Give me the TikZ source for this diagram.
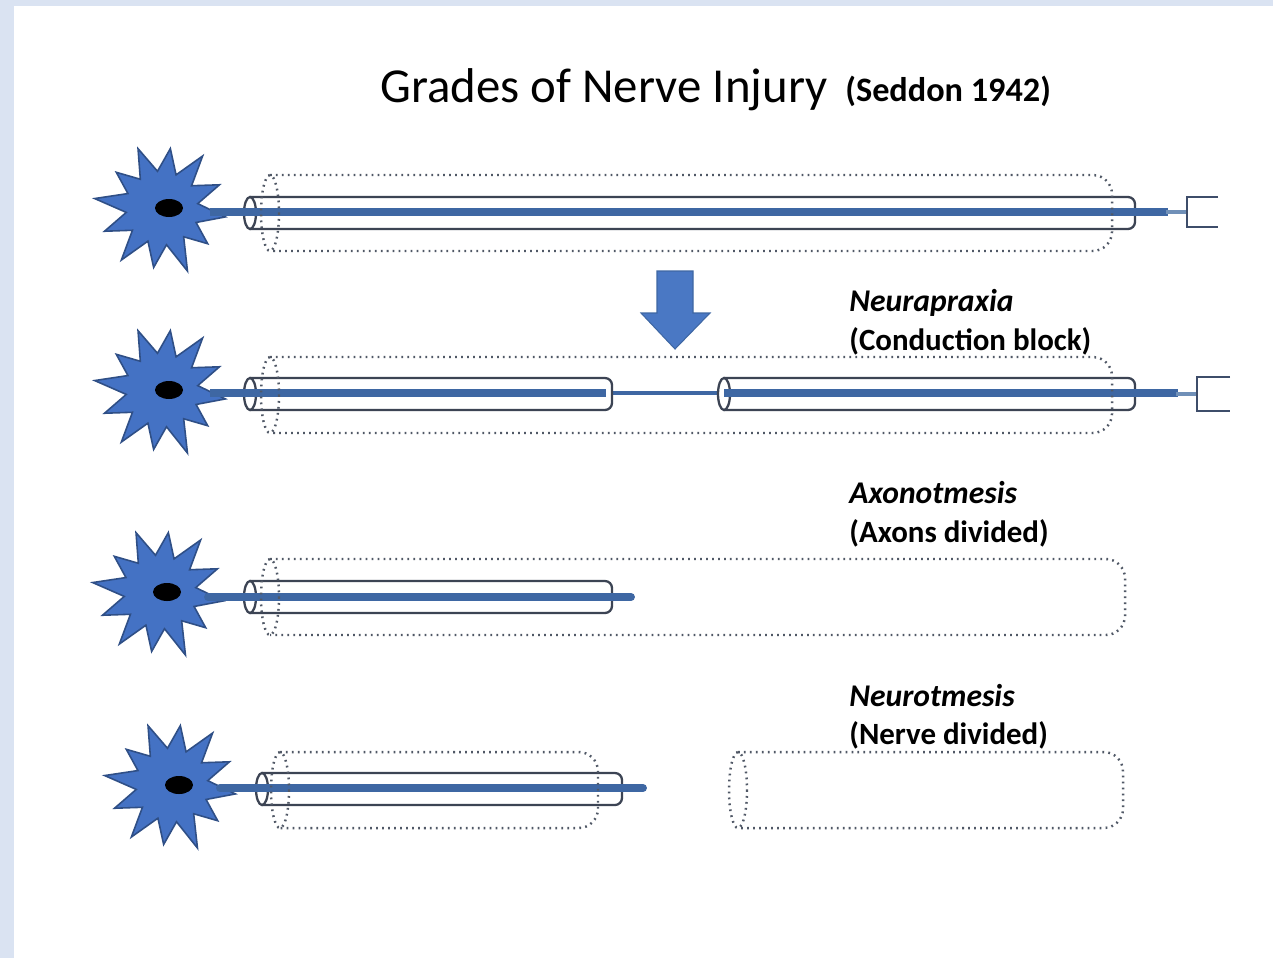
\documentclass[tikz,border=0pt]{standalone}
\usepackage{fontspec}
\setmainfont{Carlito}
\definecolor{pageblue}{HTML}{DAE3F2}
\definecolor{cellblue}{HTML}{4472C4}
\definecolor{celledge}{HTML}{2F4F86}
\definecolor{axonblue}{HTML}{3E67A3}
\definecolor{axonlight}{HTML}{7090B8}
\definecolor{sheathgray}{HTML}{3C4454}
\definecolor{dotgray}{HTML}{505866}
\definecolor{arrowblue}{HTML}{4A78C4}

\tikzset{
  cellbody/.style={fill=cellblue, draw=celledge, line width=0.9pt, line join=miter},
  sheath/.style={draw=sheathgray, line width=1.3pt},
  sheathdots/.style={draw=dotgray, line width=1.4pt, dash pattern=on 1pt off 2.4pt},
  axon/.style={draw=axonblue, line width=4.5pt},
  thinaxon/.style={draw=axonblue, line width=2.8pt},
  twig/.style={draw=axonlight, line width=1.8pt},
  bouton/.style={draw=sheathgray!80!cellblue, line width=1.4pt},
  titletext/.style={anchor=base west, inner sep=0pt, font=\fontsize{27.8}{32}\selectfont},
  subtitletext/.style={anchor=base west, inner sep=0pt, font=\bfseries\fontsize{19.5}{23}\selectfont},
  gradetext/.style={anchor=base west, inner sep=0pt, font=\bfseries\itshape\fontsize{18}{22}\selectfont},
  notetext/.style={anchor=base west, inner sep=0pt, font=\bfseries\fontsize{17.6}{21}\selectfont},
}

% nerve cell body with its nucleus
\newcommand{\somadraw}[2]{%
  \begin{scope}[shift={(#1,#2)}]
    \draw[cellbody] (8:64) -- (23:37) -- (38:58) -- (53:36) -- (68:68) -- (83:37)
      -- (98:60) -- (113:36) -- (128:66) -- (143:37) -- (158:62) -- (173:36)
      -- (188:68) -- (203:37) -- (218:58) -- (233:36) -- (248:64) -- (263:37)
      -- (278:60) -- (293:36) -- (308:66) -- (323:37) -- (338:62) -- (353:36) -- cycle;
    \fill[black] (7,0) ellipse [x radius=14, y radius=9];
  \end{scope}}

% myelin sheath around the axon: left end open ellipse, right end rounded
\newcommand{\myelin}[3]{% xL, xR, y
  \fill[white, rounded corners=4pt] (#1,#3-16) -- (#2,#3-16) -- (#2,#3+16) -- (#1,#3+16) -- cycle;
  \draw[sheath, rounded corners=4pt] (#1,#3-16) -- (#2,#3-16) -- (#2,#3+16) -- (#1,#3+16);
  \draw[sheath, fill=white] (#1,#3) ellipse [x radius=6, y radius=16];}

% dotted nerve sheath (epineurium)
\newcommand{\nervesheath}[3]{% left ellipse centre x, xR, y
  \draw[sheathdots, rounded corners=11pt] (#1,#3-38) -- (#2,#3-38) -- (#2,#3+38) -- (#1,#3+38);
  \draw[sheathdots] (#1,#3) ellipse [x radius=9, y radius=38];}

% synaptic ending
\newcommand{\synapse}[5]{% x start, fork x, arm end x, y, half height
  \draw[twig] (#1,#4) -- (#2,#4);
  \draw[bouton] (#3,#4-#5) -- (#2,#4-#5) -- (#2,#4+#5) -- (#3,#4+#5);}

\begin{document}
\begin{tikzpicture}[x=0.02cm, y=-0.02cm]
  \useasboundingbox (0,0) rectangle (1273,958);
  \fill[pageblue] (0,0) rectangle (1273,958);
  \fill[white] (14,6) rectangle (1273,958);

  % title
  \node[titletext] (title) at (380,102) {Grades of Nerve Injury};
  \node[subtitletext] (source) at (845,101) {(Seddon 1942)};

  % ---- normal nerve ----
  \somadraw{162}{208}
  \myelin{250}{1135}{213}
  \draw[axon] (210,212) -- (1168,212);
  \nervesheath{270}{1112}{213}
  \synapse{1166}{1187}{1218}{212}{15}

  % injury arrow
  \filldraw[fill=arrowblue, draw=axonblue, line width=0.6pt]
    (657,271) -- (693,271) -- (693,313) -- (710,313) -- (675,349)
    -- (641,313) -- (657,313) -- cycle;

  % ---- neurapraxia ----
  \somadraw{162}{390}
  \draw[thinaxon] (600,393) -- (730,393);
  \myelin{250}{612}{394}
  \myelin{724}{1135}{394}
  \draw[axon] (210,393) -- (606,393);
  \draw[axon] (724,393) -- (1178,393);
  \nervesheath{270}{1112}{395}
  \synapse{1176}{1197}{1230}{394}{17}
  \node[gradetext] (g1) at (849,311) {Neurapraxia};
  \node[notetext] (n1) at (849,350) {(Conduction block)};

  % ---- axonotmesis ----
  \somadraw{160}{592}
  \myelin{250}{612}{597}
  \draw[axon, line cap=round] (208,597) -- (631,597);
  \nervesheath{270}{1125}{597}
  \node[gradetext] (g2) at (849,503) {Axonotmesis};
  \node[notetext] (n2) at (849,542) {(Axons divided)};

  % ---- neurotmesis ----
  \somadraw{172}{785}
  \myelin{262}{622}{789}
  \draw[axon, line cap=round] (220,788) -- (643,788);
  \nervesheath{280}{598}{790}
  \nervesheath{738}{1123}{790}
  \node[gradetext] (g3) at (849,706) {Neurotmesis};
  \node[notetext] (n3) at (849,744) {(Nerve divided)};
\end{tikzpicture}
\end{document}
